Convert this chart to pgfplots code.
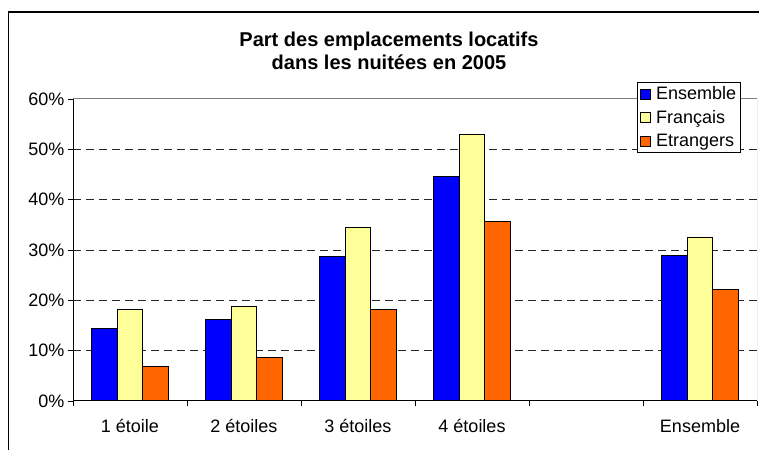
\documentclass[border=0pt]{standalone}
\usepackage{pgfplots}
\pgfplotsset{compat=1.18}
\usepackage{fontspec}
\setmainfont{Liberation Sans}
\definecolor{cBlue}{RGB}{0,0,255}
\definecolor{cYellow}{RGB}{255,255,153}
\definecolor{cOrange}{RGB}{255,102,0}
\pgfplotsset{sqlegend/.style={legend image code/.code={\draw[##1] (0pt,-5pt) rectangle (10pt,5pt);}}}
\begin{document}
\begin{tikzpicture}
\path[use as bounding box] (0pt,0pt) rectangle (759pt,449pt);
\draw[black, line width=1.2pt] (8.7pt,-5pt) -- (8.7pt,437pt) -- (770pt,437pt);
\node[font=\bfseries\fontsize{20}{24}\selectfont, anchor=base, inner sep=0pt] at (389pt,402.3pt) {Part des emplacements locatifs};
\node[font=\bfseries\fontsize{20}{24}\selectfont, anchor=base, inner sep=0pt] at (389pt,379pt) {dans les nuitées en 2005};
\begin{axis}[
  at={(73pt,48pt)}, anchor=south west, scale only axis,
  width=684pt, height=302pt,
  ymin=0, ymax=60, xmin=-0.5, xmax=5.5,
  axis lines*=left, axis line style={line width=1pt, black},
  ytick={10,20,...,50}, yticklabels={10\%,20\%,30\%,40\%,50\%},
  extra y ticks={0,60}, extra y tick labels={0\%,60\%}, extra y tick style={ymajorgrids=false},
  xtick={-0.5,0.5,...,5.5}, x tick label as interval,
  xticklabels={1 étoile,2 étoiles,3 étoiles,4 étoiles,{},Ensemble},
  xticklabel style={yshift=-10pt},
  tick align=outside, major tick length=5pt, tick style={black, line width=0.8pt},
  ymajorgrids, major grid style={black!85, dash pattern=on 8pt off 5pt, line width=0.8pt},
  ybar=0pt, bar width=25.6pt,
  ticklabel style={font=\fontsize{18}{21}\selectfont},
  legend style={at={(0.9766,1.0563)}, anchor=north east, draw=black, line width=0.8pt,
    font=\fontsize{18}{21}\selectfont, fill=white, cells={anchor=west}, row sep=5pt, inner sep=2.5pt,
    /tikz/every odd column/.append style={column sep=3pt}},
]
\addplot[fill=cBlue, draw=black, line width=0.8pt, sqlegend]
  coordinates {(0,14.4) (1,16.2) (2,28.7) (3,44.6) (5,29.0)};
\addplot[fill=cYellow, draw=black, line width=0.8pt, sqlegend]
  coordinates {(0,18.2) (1,18.7) (2,34.4) (3,53.0) (5,32.6)};
\addplot[fill=cOrange, draw=black, line width=0.8pt, sqlegend]
  coordinates {(0,6.9) (1,8.7) (2,18.2) (3,35.6) (5,22.1)};
\legend{Ensemble,Français,Etrangers}
\draw[black!50, line width=1pt] (rel axis cs:0,1) -- (rel axis cs:1,1) -- (rel axis cs:1,0);
\draw[black, line width=1pt] (rel axis cs:0,0) -- (rel axis cs:1,0);
\end{axis}
\end{tikzpicture}
\end{document}
